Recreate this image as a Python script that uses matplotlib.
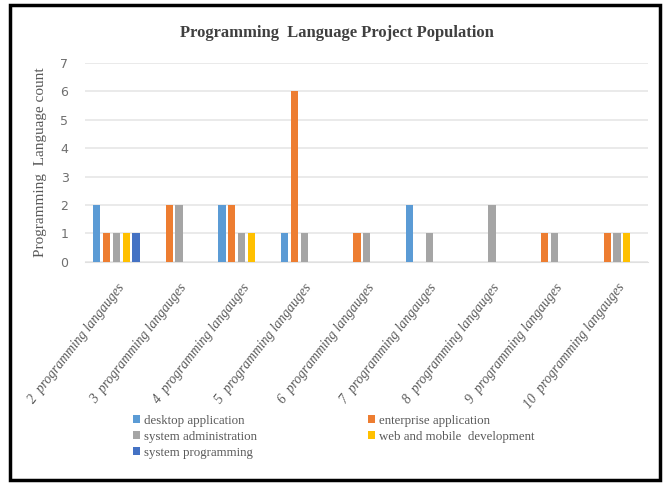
import matplotlib
matplotlib.use('Agg')
import matplotlib.pyplot as plt
import numpy as np
from matplotlib.patches import Rectangle

# 데이터
categories = ['2  programming langauges', '3  programming langauges', '4  programming langauges',
              '5  programming langauges', '6  programming langauges', '7  programming langauges',
              '8  programming langauges', '9  programming langauges', '10  programming langauges']
desktop = [2, 0, 2, 1, 0, 2, 0, 0, 0]
enterprise = [1, 2, 2, 6, 1, 0, 0, 1, 1]
sysadmin = [1, 2, 1, 1, 1, 1, 2, 1, 1]
webmobile = [1, 0, 1, 0, 0, 0, 0, 0, 1]
sysprog = [1, 0, 0, 0, 0, 0, 0, 0, 0]

series_names = ['desktop application', 'enterprise application', 'system administration',
                'web and mobile  development', 'system programming']
series = [desktop, enterprise, sysadmin, webmobile, sysprog]
colors = ['#5b9bd5', '#ed7d31', '#a5a5a5', '#ffc000', '#4472c4']

fig = plt.figure(figsize=(6.65, 4.83), dpi=100)
ax = fig.add_axes([0.128, 0.458, 0.847, 0.412])

x = np.arange(len(categories))
slot = 0.156
bw = 0.115
bars = []
for i, (vals, c, name) in enumerate(zip(series, colors, series_names)):
    b = ax.bar(x + (i - 2) * slot, vals, width=bw, color=c, label=name, zorder=3)
    bars.append(b)

ax.set_xlim(-0.5, len(categories) - 0.5)
ax.set_ylim(0, 7)
ax.set_yticks(range(8))
ax.grid(True, axis='y', color='#e6e6e6', linewidth=1.2, zorder=0)
for s in ax.spines.values():
    s.set_visible(False)
ax.spines['bottom'].set_visible(True)
ax.spines['bottom'].set_color('#e0e0e0')
ax.tick_params(axis='both', length=0, colors='#6f6f6f')
ax.tick_params(axis='y', pad=12, labelsize=9)
ax.tick_params(axis='x', pad=14)
ax.set_xticks(x)
ax.set_xticklabels(categories, rotation=52, ha='right', va='top', rotation_mode='anchor',
                   family='Liberation Serif', style='italic', fontsize=9.8, color='#595959')

ax.set_ylabel('Programming  Language count', family='Liberation Serif', fontsize=11,
              color='#595959', labelpad=10)

fig.text(0.506, 0.932, 'Programming  Language Project Population', ha='center', va='center',
         family='Liberation Serif', fontweight='bold', fontsize=12, color='#404040')

# 범례: 행 우선 순서가 되도록 재배열
order = [0, 2, 4, 1, 3]
leg = fig.legend([bars[i] for i in order], [series_names[i] for i in order],
                 loc='upper left', bbox_to_anchor=(0.192, 0.152), ncol=2, frameon=False,
                 prop={'family': 'Liberation Serif', 'size': 9.3}, handlelength=0.55,
                 handleheight=0.55, handletextpad=0.3, columnspacing=8.6, labelspacing=0.3,
                 borderaxespad=0)
for t in leg.get_texts():
    t.set_color('#595959')

# 바깥 테두리
fig.patches.append(Rectangle((0.015, 0.006), 0.978, 0.983, transform=fig.transFigure,
                             fill=False, edgecolor='black', linewidth=2.5))

fig.savefig('out.png', dpi=100)
